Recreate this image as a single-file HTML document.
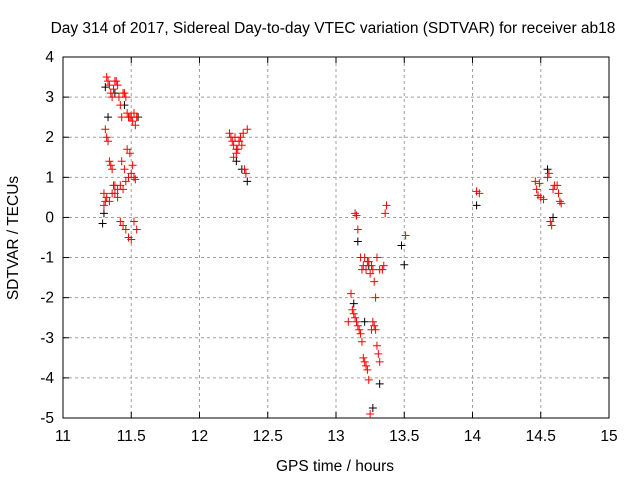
<!DOCTYPE html>
<html><head><meta charset="utf-8"><style>
body{margin:0;background:#fff;width:640px;height:480px;overflow:hidden}
text{font-family:"Liberation Sans",sans-serif;font-size:15.5px;fill:#000}
</style></head><body>
<svg id="chart" width="640" height="480" xmlns="http://www.w3.org/2000/svg">
<text x="333" y="33" text-anchor="middle">Day 314 of 2017, Sidereal Day-to-day VTEC variation (SDTVAR) for receiver ab18</text>
<text x="335" y="471" text-anchor="middle">GPS time / hours</text>
<text transform="translate(18,238) rotate(-90)" text-anchor="middle">SDTVAR / TECUs</text>
<g id="grid"></g><g id="axes"></g><g id="pts"></g>
</svg>
<script>
const xTicks=[11,11.5,12,12.5,13,13.5,14,14.5,15];
const yTicks=[4,3,2,1,0,-1,-2,-3,-4,-5];
const redTimes=[11.30,11.31,11.32,11.33,11.34,11.35,11.36,11.37,11.38,11.39,11.40,11.41,11.42,11.43,11.44,11.45,11.46,11.47,11.48,11.49,11.50,11.51,11.52,11.53,11.54,11.31,11.32,11.33,11.34,11.35,11.36,11.37,11.38,11.40,11.42,11.44,11.46,11.48,11.50,11.52,11.53,11.30,11.32,11.34,11.36,11.38,11.40,11.42,11.44,11.46,11.48,11.50,11.52,11.54,11.43,11.45,11.47,11.49,11.51,
12.22,12.23,12.24,12.25,12.26,12.27,12.28,12.29,12.30,12.31,12.32,12.33,12.34,12.35,12.25,12.27,12.29,
13.09,13.11,13.12,13.13,13.14,13.15,13.16,13.17,13.18,13.19,13.20,13.21,13.22,13.23,13.24,13.25,13.26,13.27,13.28,13.29,13.30,13.31,13.32,13.14,13.15,13.16,13.18,13.20,13.22,13.24,13.26,13.28,13.30,13.32,13.34,13.35,13.36,13.37,13.19,13.21,13.23,13.25,13.27,13.29,13.51,
14.03,14.05,14.46,14.47,14.48,14.49,14.50,14.52,14.55,14.56,14.57,14.58,14.59,14.60,14.62,14.63,14.64,14.65];
const redValues=[0.3,0.4,3.5,3.4,3.3,3.1,3.0,3.2,3.4,3.4,3.3,3.0,2.8,2.5,3.1,3.1,3.0,2.6,2.5,2.5,2.5,2.4,2.6,2.3,2.5,2.2,2.0,1.9,1.4,1.3,1.2,0.8,0.6,0.7,0.8,0.7,0.9,1.0,1.1,1.0,0.95,0.6,0.5,0.4,0.6,0.8,0.5,-0.1,-0.2,-0.3,-0.5,-0.55,-0.1,-0.3,1.4,1.2,1.7,1.6,1.3,
2.1,2.0,1.9,1.8,2.0,1.6,1.7,1.9,2.0,1.8,2.1,1.2,1.1,2.2,1.5,1.7,1.9,
-2.6,-1.9,-2.3,-2.4,-2.5,-2.6,-2.7,-2.8,-2.9,-3.1,-3.5,-3.6,-3.7,-3.8,-4.05,-4.9,-2.8,-2.6,-2.7,-2.8,-3.2,-3.4,-3.6,0.1,0.05,-0.3,-1.0,-1.2,-1.3,-1.1,-1.2,-1.6,-1.0,-1.3,-1.3,-1.2,0.1,0.3,-1.3,-1.0,-1.1,-1.4,-1.3,-2.0,-0.45,
0.65,0.6,0.9,0.7,0.55,0.85,0.5,0.45,1.0,1.1,-0.1,-0.2,0.7,0.8,0.8,0.6,0.4,0.35];
const blackTimes=[11.29,11.30,11.31,11.33,11.38,11.45,11.55,12.27,12.31,12.35,13.13,13.16,13.21,13.24,13.27,13.32,13.48,13.50,14.03,14.55,14.59];
const blackValues=[-0.15,0.1,3.25,2.5,3.1,2.8,2.5,1.4,1.2,0.9,-2.15,-0.6,-2.6,-1.2,-4.75,-4.15,-0.7,-1.18,0.3,1.2,0.0];
const X0=63,X1=609,Y0=57,Y1=418,NS="http://www.w3.org/2000/svg";
const xs=h=>X0+(h-11)/4*(X1-X0), ys=v=>Y0+(4-v)/9*(Y1-Y0);
function mk(t,a,p){const e=document.createElementNS(NS,t);for(const k in a)e.setAttribute(k,a[k]);p.appendChild(e);return e;}
const grid=document.getElementById('grid'),axes=document.getElementById('axes'),pts=document.getElementById('pts');
xTicks.forEach(t=>{const x=xs(t);
 if(t>11&&t<15){const l=mk('line',{x1:x,y1:Y0,x2:x,y2:Y1,stroke:'#a0a0a0','stroke-dasharray':'3,3'},grid);
 
 }
 mk('line',{x1:x,y1:Y1,x2:x,y2:Y1-6,stroke:'#000'},axes);mk('line',{x1:x,y1:Y0,x2:x,y2:Y0+6,stroke:'#000'},axes);
 const tx=mk('text',{x:x,y:Y1+23,'text-anchor':'middle'},axes);tx.textContent=t;
 
 });
yTicks.forEach(t=>{const y=ys(t);
 if(t<4&&t>-5){const l=mk('line',{x1:X0,y1:y,x2:X1,y2:y,stroke:'#a0a0a0','stroke-dasharray':'3,3'},grid);
 
 }
 mk('line',{x1:X0,y1:y,x2:X0+6,y2:y,stroke:'#000'},axes);mk('line',{x1:X1,y1:y,x2:X1-6,y2:y,stroke:'#000'},axes);
 const tx=mk('text',{x:X0-9,y:y+5,'text-anchor':'end'},axes);tx.textContent=t;
 
 });
const fr=mk('rect',{x:X0,y:Y0,width:X1-X0,height:Y1-Y0,fill:'none',stroke:'#000'},axes);


function plus(h,v,c,name){const x=xs(h),y=ys(v);
 const p=mk('path',{d:`M${x-4},${y}h8M${x},${y-4}v8`,stroke:c,'stroke-width':1},pts);
 
 }
blackTimes.forEach((h,i)=>plus(h,blackValues[i],'#000','black-point'));
redTimes.forEach((h,i)=>plus(h,redValues[i],'#f00','red-point'));
</script>
</body></html>
